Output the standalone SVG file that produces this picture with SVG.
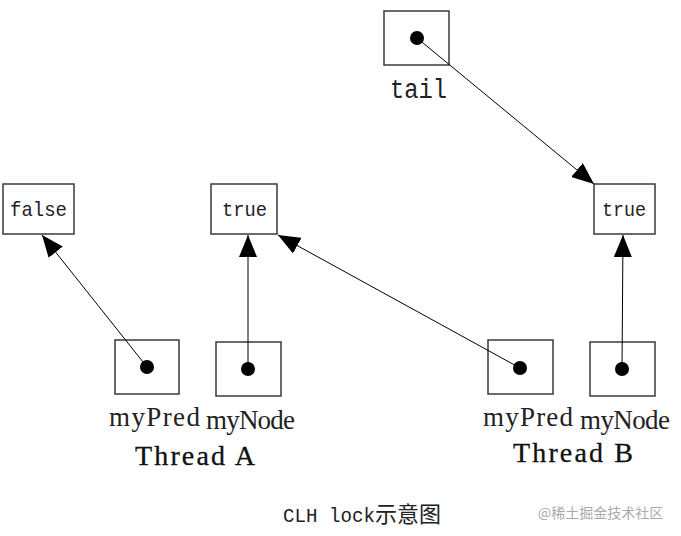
<svg xmlns="http://www.w3.org/2000/svg" width="681" height="536" viewBox="0 0 681 536">
<style>
.box{fill:#fff;stroke:#3a3a3a;stroke-width:1.5}
.dot{fill:#000}
.val{font-family:"Liberation Mono",monospace;font-size:21px;fill:#222}
.mono{font-family:"Liberation Mono",monospace;font-size:27px;fill:#222}
.lbl{font-family:"Liberation Serif",serif;font-size:27px;fill:#222}
.thr{font-family:"Liberation Serif",serif;font-size:28px;fill:#111;stroke:#111;stroke-width:0.3}
.edge{stroke:#000;stroke-width:1;fill:none;marker-end:url(#arr)}
</style>
<defs>
<marker id="arr" viewBox="0 0 22 18" refX="22" refY="9" markerWidth="22" markerHeight="18" orient="auto" markerUnits="userSpaceOnUse">
<path d="M0,0 L22,9 L0,18 Z" fill="#000"/>
</marker>
</defs>
<rect width="681" height="536" fill="#fff"/>
<g id="tail">
<rect class="box" x="384" y="11" width="65" height="54"/>
<circle class="dot" cx="417" cy="38" r="7"/>
<text class="mono" x="390" y="98" textLength="57" lengthAdjust="spacingAndGlyphs">tail</text>
</g>
<g id="falseNode">
<rect class="box" x="3" y="184" width="71" height="50"/>
<text class="val" x="10" y="216" textLength="57" lengthAdjust="spacingAndGlyphs">false</text>
</g>
<g id="trueA">
<rect class="box" x="211" y="184" width="66" height="50"/>
<text class="val" x="222" y="216" textLength="45" lengthAdjust="spacingAndGlyphs">true</text>
</g>
<g id="trueB">
<rect class="box" x="594" y="184" width="61" height="50"/>
<text class="val" x="602" y="216" textLength="44" lengthAdjust="spacingAndGlyphs">true</text>
</g>
<g id="predA">
<rect class="box" x="115" y="340" width="64" height="54"/>
<circle class="dot" cx="147" cy="367" r="7"/>
<text class="lbl" x="109" y="426" textLength="91" lengthAdjust="spacing">myPred</text>
</g>
<g id="nodeA">
<rect class="box" x="216" y="342" width="65" height="54"/>
<circle class="dot" cx="248" cy="369" r="7"/>
<text class="lbl" x="206" y="429" textLength="89" lengthAdjust="spacing">myNode</text>
</g>
<g id="predB">
<rect class="box" x="488" y="340" width="65" height="54"/>
<circle class="dot" cx="520" cy="368" r="7"/>
<text class="lbl" x="483" y="426" textLength="90" lengthAdjust="spacing">myPred</text>
</g>
<g id="nodeB">
<rect class="box" x="590" y="342" width="65" height="54"/>
<circle class="dot" cx="622" cy="369" r="7"/>
<text class="lbl" x="580" y="429" textLength="90" lengthAdjust="spacing">myNode</text>
</g>
<g id="threadA">
<text class="thr" x="135" y="465" textLength="120" lengthAdjust="spacing">Thread A</text>
</g>
<g id="threadB">
<text class="thr" x="513" y="462" textLength="120" lengthAdjust="spacing">Thread B</text>
</g>
<g id="connectors">
<line class="edge" x1="417" y1="38" x2="594" y2="184"/>
<line class="edge" x1="622" y1="369" x2="623" y2="235"/>
<line class="edge" x1="520" y1="368" x2="278" y2="235"/>
<line class="edge" x1="248" y1="369" x2="248" y2="235"/>
<line class="edge" x1="147" y1="367" x2="42" y2="235"/>
</g>
<g id="caption">
<text x="283" y="522" font-family="'Liberation Mono',monospace" font-size="21" fill="#222"><tspan textLength="92" lengthAdjust="spacingAndGlyphs">CLH lock</tspan><tspan font-family="'Noto Sans CJK SC',sans-serif" font-size="22">示意图</tspan></text>
<text x="538" y="518" font-family="'Noto Sans CJK SC',sans-serif" font-size="14" fill="#aaa">@稀土掘金技术社区</text>
</g>
</svg>
